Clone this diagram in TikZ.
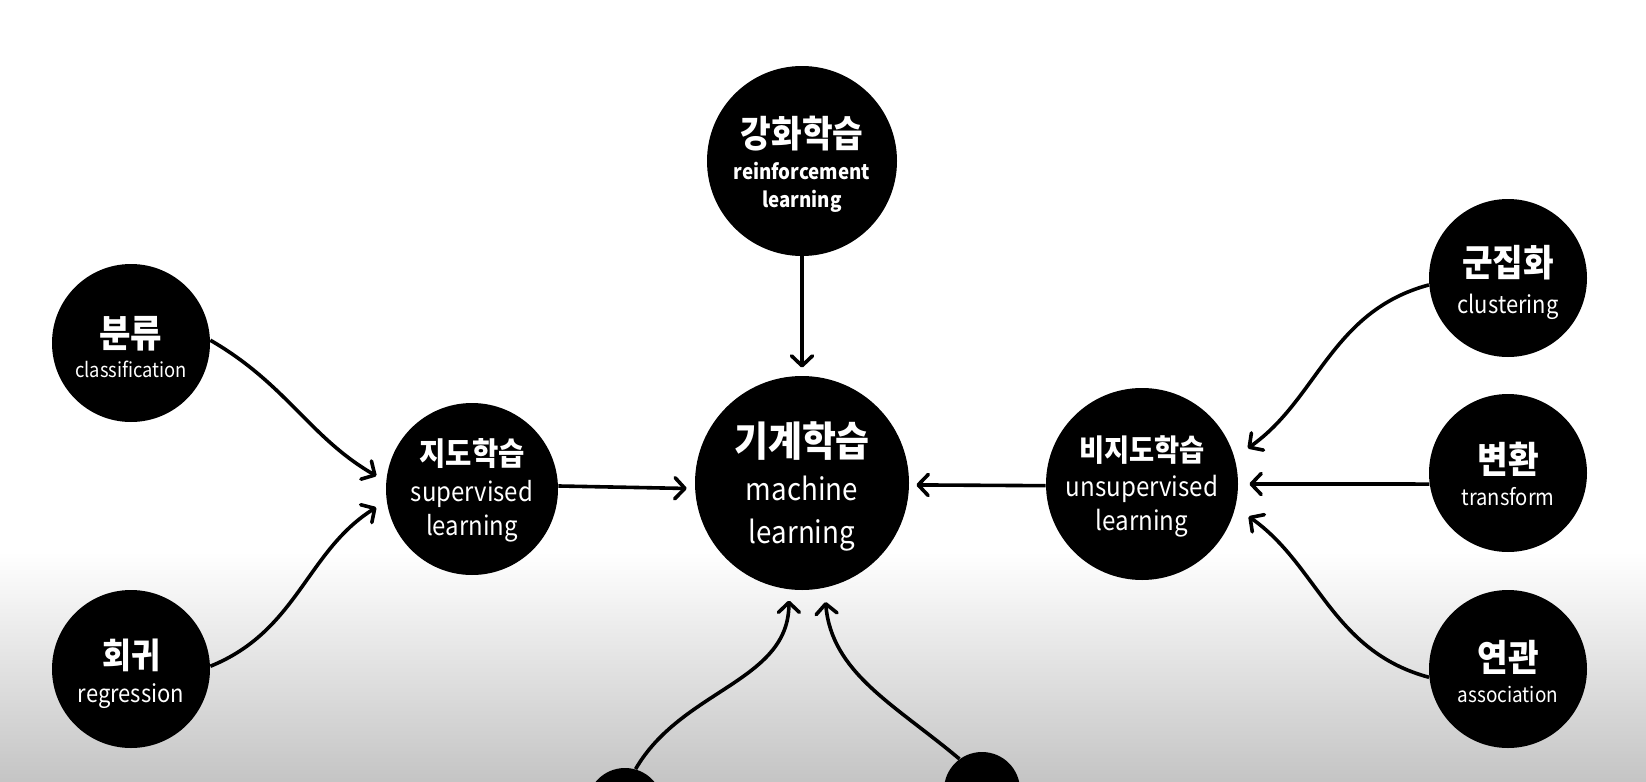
\documentclass[tikz,border=0pt]{standalone}
\usepackage{fontspec}
\setmainfont[FakeStretch=0.9]{Noto Sans CJK KR}
\usetikzlibrary{arrows.meta}
\begin{document}
\begin{tikzpicture}[x=0.5pt,y=0.5pt,
  bub/.style={circle, fill=black, inner sep=0pt},
  lab/.style={text=white, inner sep=0pt, align=center},
  arr/.style={line width=1.8pt, -{Straight Barb[round,length=5pt,width=10.5pt]}},
]
\useasboundingbox (0,0) rectangle (1646,-782);
\clip (0,0) rectangle (1646,-782);
\fill[white] (0,0) rectangle (1646,-782);
\shade[top color=white, bottom color=black!23] (0,-552) rectangle (1646,-782);

% circles
\node[bub, minimum size=95pt] (rl) at (802,-161) {};
\node[bub, minimum size=107pt] (ml) at (802,-483) {};
\node[bub, minimum size=86pt] (sl) at (472,-489) {};
\node[bub, minimum size=96pt] (ul) at (1142,-484) {};
\node[bub, minimum size=79pt] (cls) at (131,-343) {};
\node[bub, minimum size=79pt] (reg) at (131,-669) {};
\node[bub, minimum size=79pt] (clu) at (1508,-278) {};
\node[bub, minimum size=79pt] (tr) at (1508,-473) {};
\node[bub, minimum size=79pt] (as) at (1508,-669) {};
\node[bub, minimum size=38pt] (b1) at (625,-806) {};
\node[bub, minimum size=38pt] (b2) at (982,-790) {};

% texts
\node[lab, font=\fontsize{10.4}{14}\selectfont\bfseries] (rlt) at ([yshift=-1.6pt]rl.center)
  {{\fontsize{18.5}{14}\selectfont 강화학습}\\[2.1pt]reinforcement\\learning};
\node[lab, font=\fontsize{15.4}{21.5}\selectfont] (mlt) at ([yshift=-1.6pt]ml.center)
  {{\fontsize{20.5}{21.5}\selectfont\bfseries 기계학습}\\[0.4pt]machine\\learning};
\node[lab, font=\fontsize{13.3}{16.8}\selectfont] (slt) at ([yshift=-0.8pt]sl.center)
  {{\fontsize{15.9}{16.8}\selectfont\bfseries 지도학습}\\[1.2pt]supervised\\learning};
\node[lab, font=\fontsize{13.4}{17.3}\selectfont] (ult) at ([yshift=-1.3pt]ul.center)
  {{\fontsize{15.2}{17.3}\selectfont\bfseries 비지도학습}\\[0.2pt]unsupervised\\learning};
\node[lab, font=\fontsize{10.2}{15}\selectfont] (clst) at ([yshift=-2.1pt]cls.center)
  {{\fontsize{19}{15}\selectfont\bfseries 분류}\\classification};
\node[lab, font=\fontsize{12.2}{16.7}\selectfont] (regt) at ([yshift=-2.3pt]reg.center)
  {{\fontsize{17.5}{16.7}\selectfont\bfseries 회귀}\\regression};
\node[lab, font=\fontsize{12.2}{18.6}\selectfont] (clut) at ([yshift=-2.3pt]clu.center)
  {{\fontsize{18.5}{18.6}\selectfont\bfseries 군집화}\\clustering};
\node[lab, font=\fontsize{11.2}{16.2}\selectfont] (trt) at ([yshift=-0.6pt]tr.center)
  {{\fontsize{18.5}{16.2}\selectfont\bfseries 변환}\\transform};
\node[lab, font=\fontsize{10.5}{15.3}\selectfont] (ast) at ([yshift=-1.3pt]as.center)
  {{\fontsize{18.5}{15.3}\selectfont\bfseries 연관}\\association};

% connectors
\draw[arr, shorten >=4pt] (rl) -- (ml);
\draw[arr, shorten >=4pt] (sl.2) -- (ml.183);
\draw[arr, shorten >=3.5pt] (ul.181) -- (ml.-1);
\draw[arr, shorten >=5.5pt] (cls.2) to[out=-30, in=150] (sl.175);
\draw[arr, shorten >=6pt] (reg.2) to[out=22, in=212] (sl.188);
\draw[arr, shorten >=8pt] (clu.185) to[out=195, in=35] (ul.16);
\draw[arr, shorten >=5.5pt] (tr.188) -- (ul.east);
\draw[arr, shorten >=8pt] (as.186) to[out=165, in=-35] (ul.-14);
\draw[arr, shorten >=5.5pt] (b1.74) to[out=60, in=-90] (ml.-97);
\draw[arr, shorten >=7pt] (b2.126) to[out=140, in=-85] (ml.-78);
\end{tikzpicture}
\end{document}
